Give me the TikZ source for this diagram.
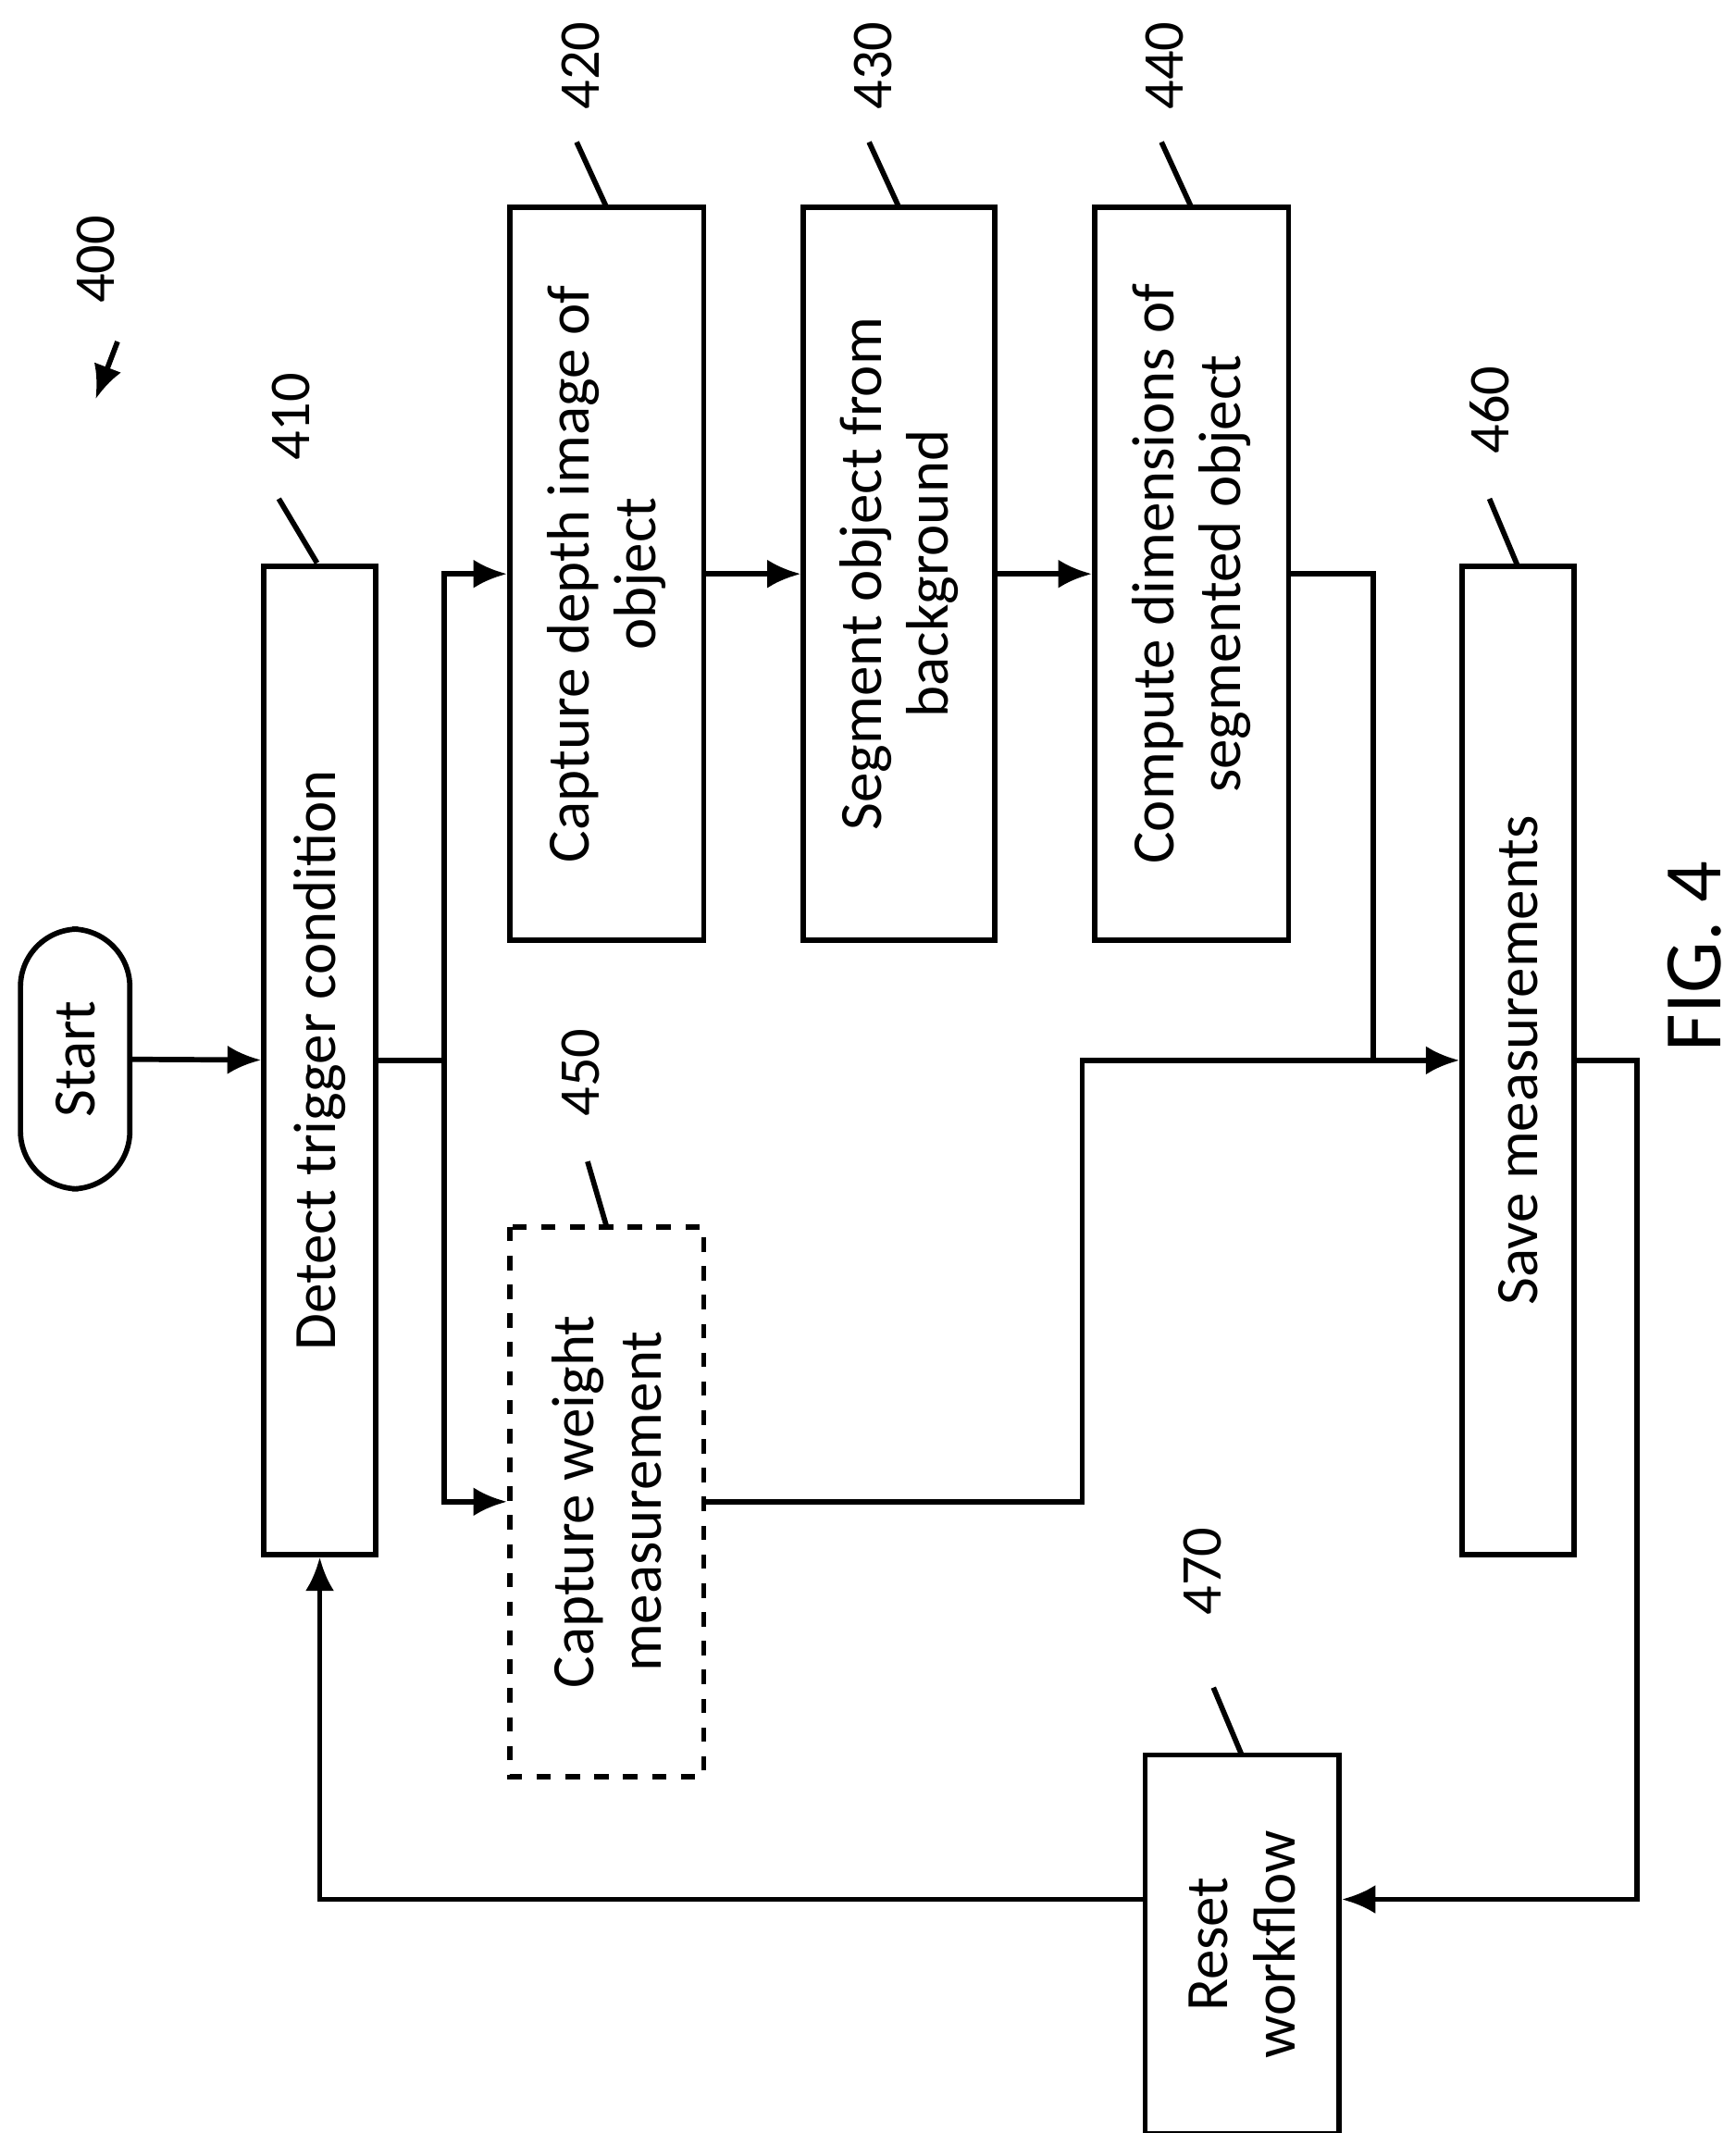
\documentclass[tikz,border=0pt]{standalone}
\usepackage{fontspec}
\setmainfont{Carlito}
\usetikzlibrary{arrows.meta,positioning,calc}

\begin{document}
\begin{tikzpicture}[x=0.01cm,y=-0.01cm,line width=1.1pt,>={Latex[length=7pt,width=6pt]},
  font=\fontsize{12.5}{14}\selectfont]
\tikzstyle{box}=[draw,rotate=90,align=center,inner sep=0pt]
\tikzstyle{ref}=[rotate=90,font=\fontsize{12}{14}\selectfont]
\useasboundingbox (0,0) rectangle (1270,1561);
% boxes
\node[box,rounded corners=12pt,minimum width=1.9cm,minimum height=0.8cm] (start) at (55,775) {Start};
\node[box,minimum width=7.23cm,minimum height=0.82cm] (detect) at (234,776) {Detect trigger condition};
\node[box,minimum width=5.36cm,minimum height=1.42cm] (depth) at (444,420) {Capture depth image of\\object};
\node[box,minimum width=5.36cm,minimum height=1.4cm] (segment) at (658,420) {Segment object from\\background};
\node[box,minimum width=5.36cm,minimum height=1.42cm] (compute) at (872,420) {Compute dimensions of\\segmented object};
\node[box,dashed,minimum width=4.02cm,minimum height=1.42cm] (weight) at (444,1099) {Capture weight\\measurement};
\node[box,minimum width=7.23cm,minimum height=0.82cm] (save) at (1111,776) {Save measurements};
\node[box,minimum width=2.77cm,minimum height=1.42cm] (reset) at (909,1423) {Reset\\workflow};
\node[rotate=90,font=\fontsize{17}{20}\selectfont] (fig) at (1240,700) {FIG. 4};
% reference numerals
\node[ref] (n400) at (70,190) {400};
\node[ref] (n410) at (213,305) {410};
\node[ref] (n420) at (425,48) {420};
\node[ref] (n430) at (639,48) {430};
\node[ref] (n440) at (852,48) {440};
\node[ref] (n450) at (425,785) {450};
\node[ref] (n460) at (1090,300) {460};
\node[ref] (n470) at (880,1150) {470};
\draw[->] (86,250) -- (70,292);
\draw (232,412) -- (204,365);
\draw (444,152) -- (422,104);
\draw (658,152) -- (636,104);
\draw (872,152) -- (850,104);
\draw (444,898) -- (430,850);
\draw (1111,415) -- (1090,365);
\draw (909,1285) -- (888,1235);
% connectors
\coordinate (split) at (325,776);
\coordinate (merge) at (1005,776);
\draw[->] (start) -- (detect);
\draw (detect.south) -- (split);
\draw[->] (split) |- (depth.north |- 0,420);
\draw[->] (split) |- (weight.north |- 0,1099);
\draw[->] (depth) -- (segment);
\draw[->] (segment) -- (compute);
\draw (compute.south) -| (merge);
\draw[->] (merge) -- (save);
\draw (weight.south) -| (792,776) -- (merge);
\draw[->] (save.south) -| (1198,1390) -- (reset.south |- 0,1390);
\draw[->] (reset.north |- 0,1390) -| (detect.west);
\end{tikzpicture}
\end{document}
